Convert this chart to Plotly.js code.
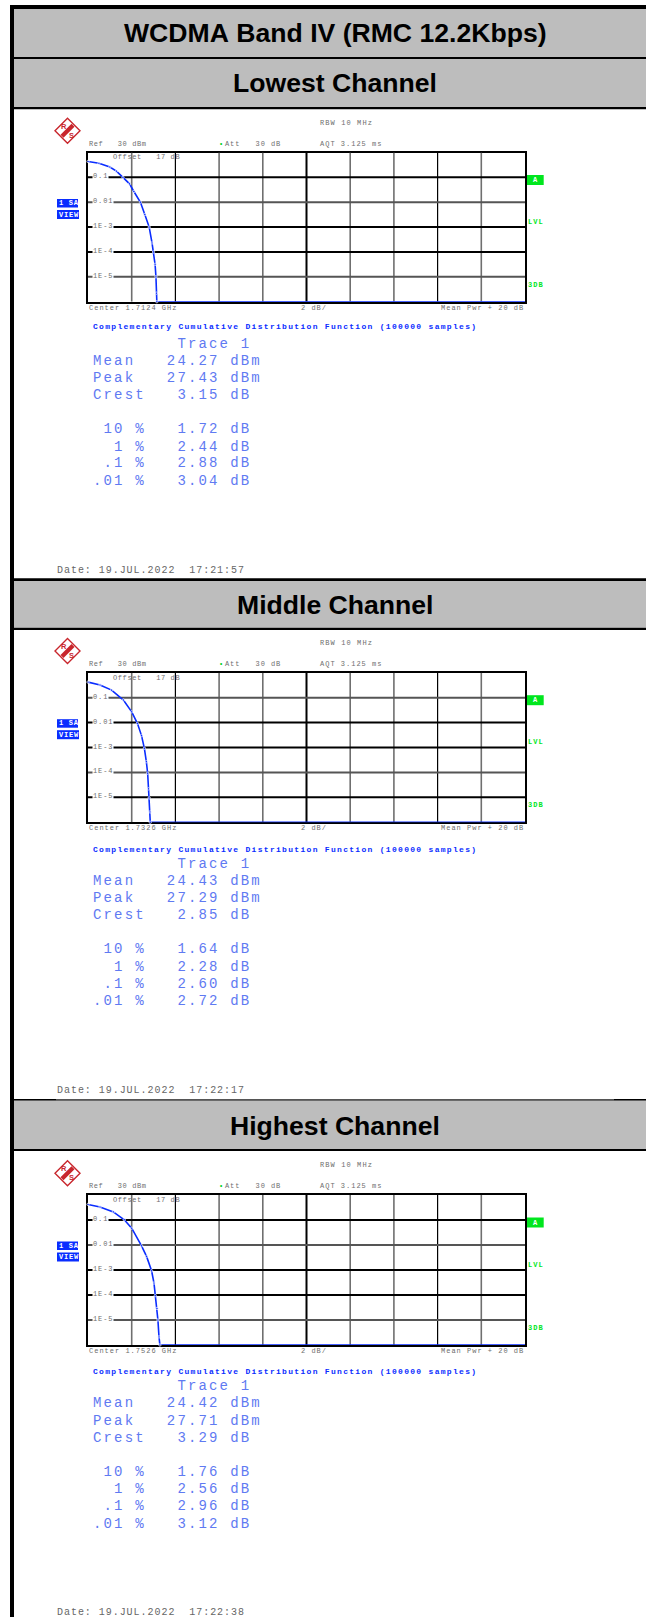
<!DOCTYPE html>
<html><head><meta charset="utf-8">
<script src="https://cdn.plot.ly/plotly-3.0.1.min.js"></script>
<style>html,body{margin:0;padding:0;background:#fff;overflow:hidden}</style></head>
<body><div id="g" style="width:646px;height:1617px"></div>
<script>
const W=646,H=1617;
const mainTitle="WCDMA Band IV (RMC 12.2Kbps)";
const channels=["Lowest Channel","Middle Channel","Highest Channel"];
const centers=["Center 1.7124 GHz","Center 1.7326 GHz","Center 1.7526 GHz"];
const dates=["Date: 19.JUL.2022  17:21:57","Date: 19.JUL.2022  17:22:17","Date: 19.JUL.2022  17:22:38"];
const probLevels=[0.1,0.01,0.001,0.0001,0.00001];
const probLabels=["0.1","0.01","1E-3","1E-4","1E-5"];
const divisions=[2,4,6,8,10,12,14,16,18];
const statNames=["Mean ","Peak ","Crest"];
const pctNames=[" 10 %","  1 %"," .1 %",".01 %"];
const lowStats=["24.27 dBm","27.43 dBm"," 3.15 dB"," 1.72 dB"," 2.44 dB"," 2.88 dB"," 3.04 dB"];
const midStats=["24.43 dBm","27.29 dBm"," 2.85 dB"," 1.64 dB"," 2.28 dB"," 2.60 dB"," 2.72 dB"];
const highStats=["24.42 dBm","27.71 dBm"," 3.29 dB"," 1.76 dB"," 2.56 dB"," 2.96 dB"," 3.12 dB"];
const lowX=[0,0.5,1,1.3,1.6,1.9,2.1,2.4,2.6,2.8,2.93,3,3.07,3.11,3.13,3.15,20];
const lowP=[0.436,0.37,0.26,0.178,0.1,0.055,0.027,0.01,0.0032,0.001,0.00023,0.0001,0.000032,0.00001,0.0000022,0.000001,0.000001];
const midX=[0,0.55,1.08,1.62,2,2.26,2.45,2.58,2.67,2.73,2.77,2.8,2.84,2.85,20];
const midP=[0.42,0.32,0.2,0.08,0.027,0.0093,0.003,0.00093,0.00027,0.000093,0.000022,0.0000095,0.0000026,0.000001,0.000001];
const highX=[0,0.55,1.16,1.66,2,2.45,2.68,2.91,3.02,3.08,3.16,3.2,3.25,3.29,20];
const highP=[0.42,0.33,0.21,0.102,0.047,0.0093,0.0035,0.00093,0.0003,0.000095,0.000029,0.00001,0.0000021,0.000001,0.000001];
const series=[[lowX,lowP],[midX,midP],[highX,highP]];
const stats=[lowStats,midStats,highStats];
const boxTop=[152.5,672.7,1195], boxBottom=[301.7,822.3,1345], boxL=88, boxR=525;
const funcY=[327,850,1371.5], dateY=[570.7,1090.7,1612], titleY=[82.7,605,1126];
const rowOff=[208,225.5,242.5,276.5,294,311,328.7];
const hStyle=[['#000','#555','#000','#000','#555'],['#555','#000','#000','#555','#000'],['#000','#555','#000','#000','#555']];
const vStyle=[['#6f6f6f',1.6],['#000',1.2],['#6f6f6f',1.6],['#6f6f6f',1.6],['#000',2],['#6f6f6f',1.6],['#6f6f6f',1.6],['#000',1.2],['#6f6f6f',1.6]];
const blue='#0a2dff', txtBlue='#5f7af2', gray='#6e6e6e', green='#00e61e', red='#c8262c', band='#bdbdbd';
const mono='"Liberation Mono","DejaVu Sans Mono",monospace', arial='"Liberation Sans",Arial,sans-serif';
const px=x=>x/W, py=y=>1-y/H;
const nb=s=>s.replace(/ /g,'\u00a0');
const shapes=[],ann=[];
function rect(x0,y0,x1,y1,c){shapes.push({type:'rect',xref:'paper',yref:'paper',x0:px(x0),x1:px(x1),y0:py(y1),y1:py(y0),fillcolor:c,line:{width:0},layer:'below'});}
function txt(x,y,t,o={}){
 const body=o.ls?`<span style="letter-spacing:${o.ls}px">${nb(t)}</span>`:nb(t);
 ann.push({xref:'paper',yref:'paper',x:px(x),y:py(y),text:body,showarrow:false,xanchor:o.a||'left',yanchor:'middle',borderpad:0,
 font:{family:o.f||mono,size:o.s||7,color:o.c||gray,weight:o.w||400},bgcolor:o.bg||'rgba(0,0,0,0)'});}
function poly(pts,fill,lineC,lw){
 shapes.push({type:'path',xref:'paper',yref:'paper',path:pts.map((p,i)=>(i?'L':'M')+px(p[0])+','+py(p[1])).join(' ')+' Z',fillcolor:fill,line:lineC?{color:lineC,width:lw}:{width:0}});
}
// frame and header bands
rect(10,5,14,H,'#000');rect(10,5,W,9,'#000');
rect(14,9,W,57,band);rect(14,57,W,59,'#000');rect(14,59,W,107,band);rect(14,107,W,109.3,'#000');
rect(14,578.3,W,581,'#000');rect(14,581,W,627.7,band);rect(14,627.7,W,630,'#000');
rect(14,1099,W,1100.8,'#000');rect(56,1099,614,1100.8,'#555');rect(14,1100.8,W,1149,band);rect(14,1149,W,1151,'#000');
txt(335,33,mainTitle,{a:'center',f:arial,s:26.6,c:'#000',w:700});
const layout={width:W,height:H,margin:{l:0,r:0,t:0,b:0},paper_bgcolor:'#fff',plot_bgcolor:'#fff',showlegend:false,shapes,annotations:ann};
const traces=[];
series.forEach((s,i)=>{
 const k=i?String(i+1):'';
 const t=boxTop[i],bot=boxBottom[i];
 const xa='x'+k, ya='y'+k;
 // grid lines
 divisions.forEach((d,j)=>traces.push({type:'scatter',mode:'lines',x:[d,d],y:[1e-6,1],xaxis:xa,yaxis:ya,line:{color:vStyle[j][0],width:vStyle[j][1]},hoverinfo:'skip'}));
 probLevels.forEach((p,j)=>traces.push({type:'scatter',mode:'lines',x:[0,20],y:[p,p],xaxis:xa,yaxis:ya,line:{color:hStyle[i][j],width:2},hoverinfo:'skip'}));
 // CCDF trace
 traces.push({type:'scatter',mode:'lines+markers',x:s[0],y:s[1],xaxis:xa,yaxis:ya,line:{color:blue,width:1.6},marker:{color:blue,size:s[0].map(v=>v<20?2.4:0)},cliponaxis:false,hoverinfo:'skip'});
 layout['xaxis'+k]={domain:[px(boxL),px(boxR)],range:[0,20],showgrid:false,showticklabels:false,ticks:'',zeroline:false,showline:true,linecolor:'#000',linewidth:2,mirror:true,anchor:ya,layer:'below traces'};
 layout['yaxis'+k]={domain:[py(bot),py(t)],type:'log',range:[-6,0],showgrid:false,showticklabels:false,ticks:'',zeroline:false,showline:true,linecolor:'#000',linewidth:2,mirror:true,anchor:xa,layer:'below traces'};
 // decade labels inside the plot
 const decade=(bot-t)/6;
 probLabels.forEach((l,j)=>txt(92.5,t+decade*(j+1)-1,l,{s:7,ls:0.9,bg:'#fff'}));
 // instrument header text
 txt(319,t-29.8,'RBW 10 MHz',{ls:1.1});
 txt(88,t-8.6,'Ref   30 dBm',{ls:0.6});
 txt(218,t-8.6,'\u2022',{c:'#00d020'});
 txt(224,t-8.6,'Att   30 dB',{ls:0.9});
 txt(319,t-8.6,'AQT 3.125 ms',{ls:1});
 txt(112,t+5,'Offset   17 dB',{ls:0.6});
 txt(88,bot+6,centers[i],{ls:1});
 txt(300,bot+6,'2 dB/',{ls:1});
 txt(525,bot+6,'Mean Pwr + 20 dB',{ls:1,a:'right'});
 // side labels
 rect(57,t+46.5,78,t+55,blue);rect(57,t+57.5,79,t+66.5,blue);
 txt(57.5,t+50.7,'1 SA',{c:'#fff',w:700,ls:0.7});txt(57.5,t+62,'VIEW',{c:'#fff',w:700,ls:0.8});
 rect(527,t+22.5,543.7,t+32.5,green);
 txt(535.5,t+27.5,'A',{c:'#fff',w:700,a:'center'});
 txt(536,t+69.5,'LVL',{c:green,w:700,a:'center',ls:1});
 txt(536,t+132.5,'3DB',{c:green,w:700,a:'center',ls:1});
 // logo
 const ly=t-21.8,lx=67.5;
 poly([[lx-12.5,ly],[lx,ly-12.5],[lx+12.5,ly],[lx,ly+12.5]],'#fff',red,1.4);
 poly([[lx-7,ly+4],[lx+4,ly-7],[lx+7,ly-4],[lx-4,ly+7]],red);
 txt(lx-3.6,ly-4.6,'R',{s:7.5,c:red,w:700,a:'center',f:arial});
 txt(lx+3.6,ly+4.6,'S',{s:7.5,c:red,w:700,a:'center',f:arial});
 // statistics block
 const st={s:14,c:txtBlue,ls:2.15};
 txt(92,funcY[i],'Complementary Cumulative Distribution Function (100000 samples)',{s:8,c:blue,w:700,ls:1.3});
 txt(92,t+191,'        Trace 1',st);
 const names=statNames.concat(pctNames);
 rowOff.forEach((o,r)=>txt(92,t+o,names[r]+'  '+stats[i][r],st));
 txt(56,dateY[i],dates[i],{s:10,ls:0.96,c:'#666'});
 txt(335,titleY[i],channels[i],{a:'center',f:arial,s:26.6,c:'#000',w:700});
});
Plotly.newPlot('g',traces,layout,{staticPlot:true,displayModeBar:false});
</script></body></html>
